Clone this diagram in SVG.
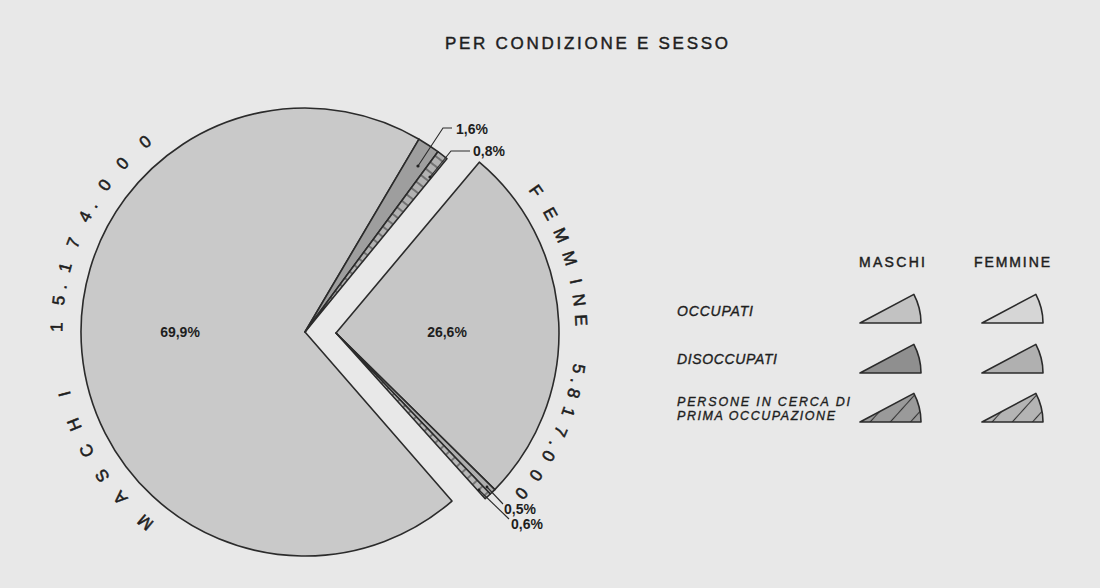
<svg xmlns="http://www.w3.org/2000/svg" width="1100" height="588" viewBox="0 0 1100 588">
<style>
 .sl{stroke:#2b2b2b;stroke-width:1.6;stroke-linejoin:round}
 .t{font-family:"Liberation Sans",Arial,sans-serif;fill:#1e1e1e}
 .pct{font-size:14px;font-weight:bold}
 .arc{font-size:17px;stroke:#1e1e1e;stroke-width:0.55}
 .leg{font-size:14px;font-style:italic;stroke:#1e1e1e;stroke-width:0.35}
 .leg2{font-size:12.5px}
 .hd{font-size:14px;stroke:#1e1e1e;stroke-width:0.45}
 .ttl{font-size:17px;stroke:#1e1e1e;stroke-width:0.45}
 .ld{fill:none;stroke:#2b2b2b;stroke-width:1.1}
 .wg{stroke:#2b2b2b;stroke-width:1.6;stroke-linejoin:round}
</style>
<defs>
 <pattern id="hatchM" patternUnits="userSpaceOnUse" width="8" height="8" patternTransform="rotate(-52.2 305 332)">
  <rect width="8" height="8" fill="#b2b2b2"/>
  <path d="M4,0V8" stroke="#333" stroke-width="1"/>
 </pattern>
 <pattern id="hatchF" patternUnits="userSpaceOnUse" width="8" height="8" patternTransform="rotate(47.1 336 333)">
  <rect width="8" height="8" fill="#b8b8b8"/>
  <path d="M4,0V8" stroke="#333" stroke-width="1"/>
 </pattern>
 <pattern id="diag" patternUnits="userSpaceOnUse" width="15" height="15" patternTransform="rotate(-48)">
  <path d="M0,7.5H15" stroke="#333" stroke-width="1.1"/>
 </pattern>
 <path id="wedge" d="M0,0 H61 A61,61 0 0,0 53.86,-28.64 Z"/>
 <path id="pm" d="M165.8,530.7 A242.6,242.6 0 0,1 202.5,112.1"/>
 <path id="pf" d="M519.5,179 A239.6,239.6 0 0,1 490,516.5"/>
</defs>
<rect width="1100" height="588" fill="#e8e8e8"/>

<g id="title">
 <text class="t ttl" x="586.5" y="49" text-anchor="middle" textLength="283" lengthAdjust="spacing">PER CONDIZIONE E SESSO</text>
</g>

<g id="male-pie">
 <path class="sl" fill="#c9c9c9" d="M305,332 L451.97,501.05 A224,224 0 1,1 419,139.2 Z"/>
 <path class="sl" fill="#9e9e9e" d="M305,332 L419,139.2 A224,224 0 0,1 437.9,151.7 Z"/>
 <path class="sl" fill="url(#hatchM)" d="M305,332 L437.9,151.7 A224,224 0 0,1 446.9,158.7 Z"/>
 <text class="t pct" x="180" y="337" text-anchor="middle">69,9%</text>
 <text class="t arc"><textPath href="#pm"><tspan dx="14.02 21.44 16.56 16.89 16.02 22.8 0 54.08 16.75 6.81 11.91 15.95 18.45 6.81 15.31 17.95 20.95">MASCHI 15.174.000</tspan></textPath></text>
</g>

<g id="female-pie">
 <path class="sl" fill="#c6c6c6" d="M336,333 L479.3,162.2 A223,223 0 0,1 494.8,489.6 Z"/>
 <path class="sl" fill="#afafaf" d="M336,333 L494.8,489.6 A223,223 0 0,1 490.3,494 Z"/>
 <path class="sl" fill="url(#hatchF)" d="M336,333 L490.3,494 A223,223 0 0,1 485.2,498.7 Z"/>
 <text class="t pct" x="447" y="337" text-anchor="middle">26,6%</text>
 <text class="t arc"><textPath href="#pf"><tspan dx="14.1 15.53 10.65 9.73 14.05 9.89 7.89 0 32.58 5.11 5.01 9.45 11.05 7.11 5.51 12.75 13.15">FEMMINE 5.817.000</tspan></textPath></text>
</g>

<g id="small-labels">
 <text class="t pct" x="456" y="134">1,6%</text>
 <text class="t pct" x="473" y="156">0,8%</text>
 <text class="t pct" x="504" y="514" font-size="13.5">0,5%</text>
 <text class="t pct" x="511" y="529" font-size="13.5">0,6%</text>
</g>

<g id="connectors">
 <polyline class="ld" points="452,128 443,128 418,166"/>
 <polyline class="ld" points="470,151 451,151 430,177"/>
 <line class="ld" x1="487" y1="487" x2="503" y2="504"/>
 <line class="ld" x1="479" y1="490" x2="509" y2="519"/>
 <circle cx="418" cy="166" r="1.6" fill="#222"/>
 <circle cx="430" cy="177" r="1.6" fill="#222"/>
 <circle cx="487" cy="487" r="1.4" fill="#222"/>
 <circle cx="479" cy="490" r="1.4" fill="#222"/>
</g>

<g id="legend">
 <g id="legend-headers">
  <text class="t hd" x="859" y="267" textLength="66" lengthAdjust="spacing">MASCHI</text>
  <text class="t hd" x="974" y="267" textLength="76" lengthAdjust="spacing">FEMMINE</text>
 </g>
 <g id="legend-occupati">
  <text class="t leg" x="677" y="316" textLength="76" lengthAdjust="spacing">OCCUPATI</text>
  <use href="#wedge" transform="translate(860,323)" class="wg" fill="#c2c2c2"/>
  <use href="#wedge" transform="translate(982,323)" class="wg" fill="#d6d6d6"/>
 </g>
 <g id="legend-disoccupati">
  <text class="t leg" x="677" y="364" textLength="100" lengthAdjust="spacing">DISOCCUPATI</text>
  <use href="#wedge" transform="translate(860,373)" class="wg" fill="#8f8f8f"/>
  <use href="#wedge" transform="translate(982,373)" class="wg" fill="#b0b0b0"/>
 </g>
 <g id="legend-persone">
  <text class="t leg leg2" x="677" y="405.5" textLength="173" lengthAdjust="spacing">PERSONE IN CERCA DI</text>
  <text class="t leg leg2" x="677" y="420" textLength="158" lengthAdjust="spacing">PRIMA OCCUPAZIONE</text>
  <use href="#wedge" transform="translate(860,422)" fill="#9a9a9a"/>
  <use href="#wedge" transform="translate(860,422)" fill="url(#diag)"/>
  <use href="#wedge" transform="translate(860,422)" class="wg" fill="none"/>
  <use href="#wedge" transform="translate(982,422)" fill="#b4b4b4"/>
  <use href="#wedge" transform="translate(982,422)" fill="url(#diag)"/>
  <use href="#wedge" transform="translate(982,422)" class="wg" fill="none"/>
 </g>
</g>
</svg>
